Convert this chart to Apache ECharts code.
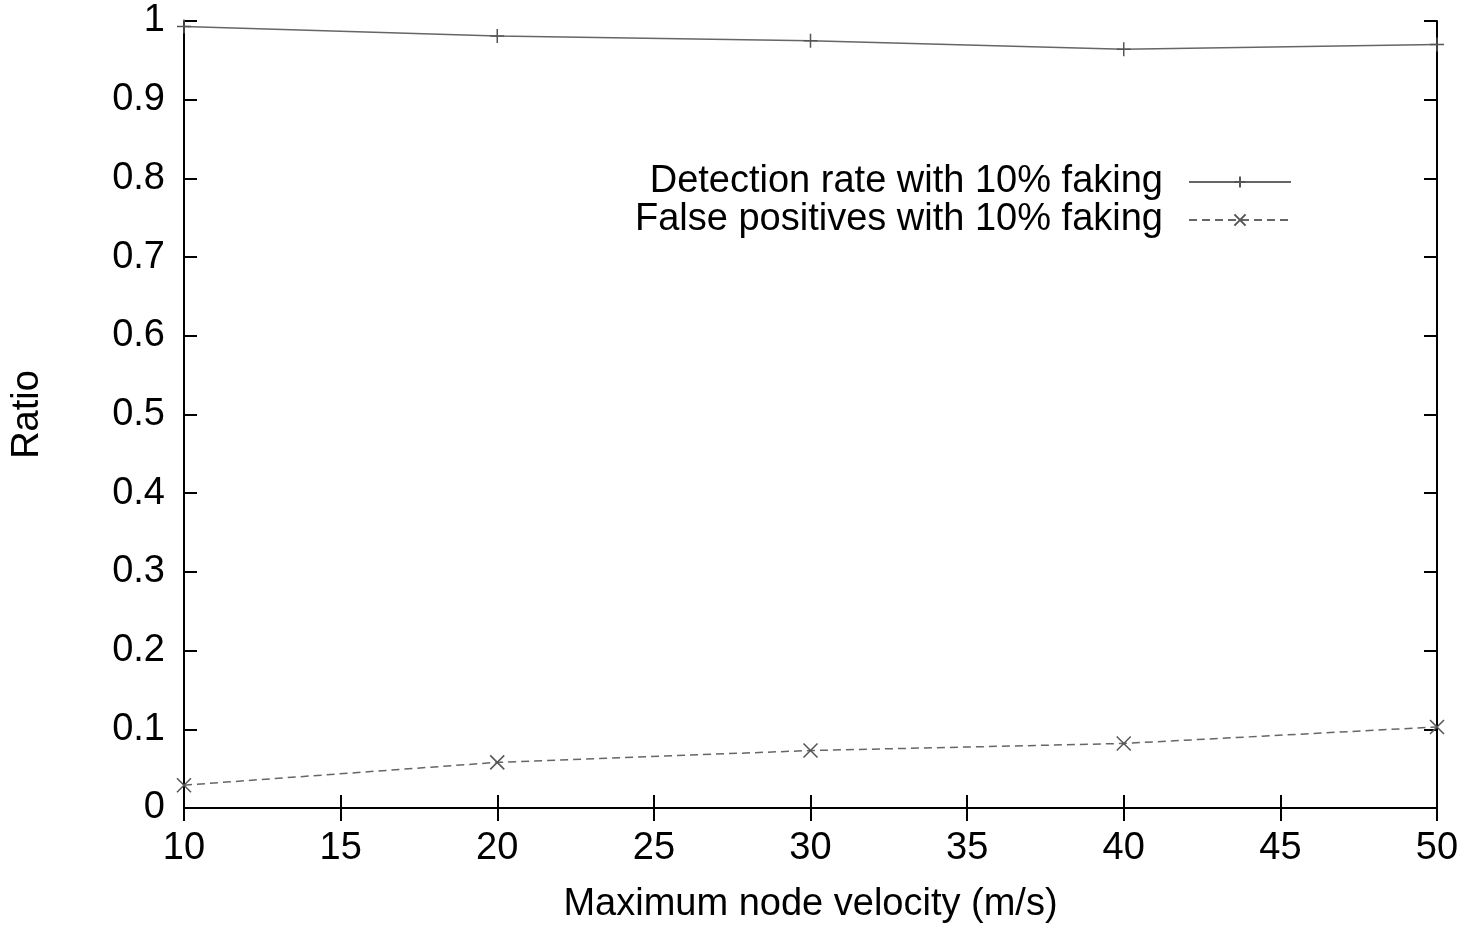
<!DOCTYPE html>
<html>
<head>
<meta charset="utf-8">
<script src="https://cdn.jsdelivr.net/npm/echarts@6/dist/echarts.min.js"></script>
<style>html,body{margin:0;padding:0;background:#fff}#c{width:1470px;height:929px}</style>
</head>
<body>
<div id="c"></div>
<script>
const velocities = [10, 20, 30, 40, 50];
const detectionRate = [0.993, 0.981, 0.975, 0.964, 0.970];
const falsePositives = [0.029, 0.058, 0.073, 0.082, 0.103];
const seriesNames = ['Detection rate with 10% faking', 'False positives with 10% faking'];
const xTitle = 'Maximum node velocity (m/s)';
const yTitle = 'Ratio';

const FONT = 'Liberation Sans, Arial, sans-serif';
const FS = 38;
const plusPath = 'path://M0,-10L0,10M-10,0L10,0';
const crossPath = 'path://M-10,-10L10,10M-10,10L10,-10';
const axisLine = {show: true, lineStyle: {color: '#000', width: 2}};
const tick = {show: true, inside: true, length: 13, lineStyle: {color: '#000', width: 2}};

const chart = echarts.init(document.getElementById('c'));
chart.setOption({
  animation: false,
  backgroundColor: '#fff',
  grid: {left: 184, right: 33, top: 21, bottom: 116, containLabel: false},
  legend: {
    top: 163, right: 178, padding: 0,
    orient: 'vertical',
    align: 'right',
    itemWidth: 102, itemHeight: 14, itemGap: 0,
    textStyle: {fontFamily: FONT, fontSize: FS, lineHeight: 37, color: '#000', padding: [0, 21, 0, 0]},
    data: seriesNames
  },
  xAxis: [{
    type: 'value', min: 10, max: 50, interval: 5,
    name: xTitle, nameLocation: 'middle', nameGap: 78,
    nameTextStyle: {fontFamily: FONT, fontSize: FS, color: '#000'},
    axisLine: axisLine, axisTick: tick,
    axisLabel: {fontFamily: FONT, fontSize: FS, color: '#000', margin: 22},
    splitLine: {show: false}
  }, {
    type: 'value', min: 10, max: 50, interval: 5, position: 'top',
    axisLine: axisLine, axisTick: tick,
    axisLabel: {show: false}, splitLine: {show: false}
  }],
  yAxis: [{
    type: 'value', min: 0, max: 1, interval: 0.1,
    name: yTitle, nameLocation: 'middle', nameGap: 137, nameRotate: 90,
    nameTextStyle: {fontFamily: FONT, fontSize: FS, color: '#000'},
    axisLine: axisLine, axisTick: tick,
    axisLabel: {fontFamily: FONT, fontSize: FS, color: '#000', margin: 19,
      formatter: v => String(Math.round(v * 10) / 10)},
    splitLine: {show: false}
  }, {
    type: 'value', min: 0, max: 1, interval: 0.1, position: 'right',
    axisLine: axisLine, axisTick: tick,
    axisLabel: {show: false}, splitLine: {show: false}
  }],
  series: [{
    name: seriesNames[0], type: 'line',
    data: velocities.map((v, i) => [v, detectionRate[i]]),
    symbol: plusPath, symbolSize: 14,
    itemStyle: {color: '#555', borderColor: '#555', borderWidth: 1.5},
    lineStyle: {color: '#666', width: 1.5, type: 'solid'},
    clip: false
  }, {
    name: seriesNames[1], type: 'line',
    data: velocities.map((v, i) => [v, falsePositives[i]]),
    symbol: crossPath, symbolSize: 14,
    itemStyle: {color: '#555', borderColor: '#555', borderWidth: 1.5},
    lineStyle: {color: '#666', width: 1.5, type: [8, 5]},
    clip: false
  }]
});
</script>
</body>
</html>
